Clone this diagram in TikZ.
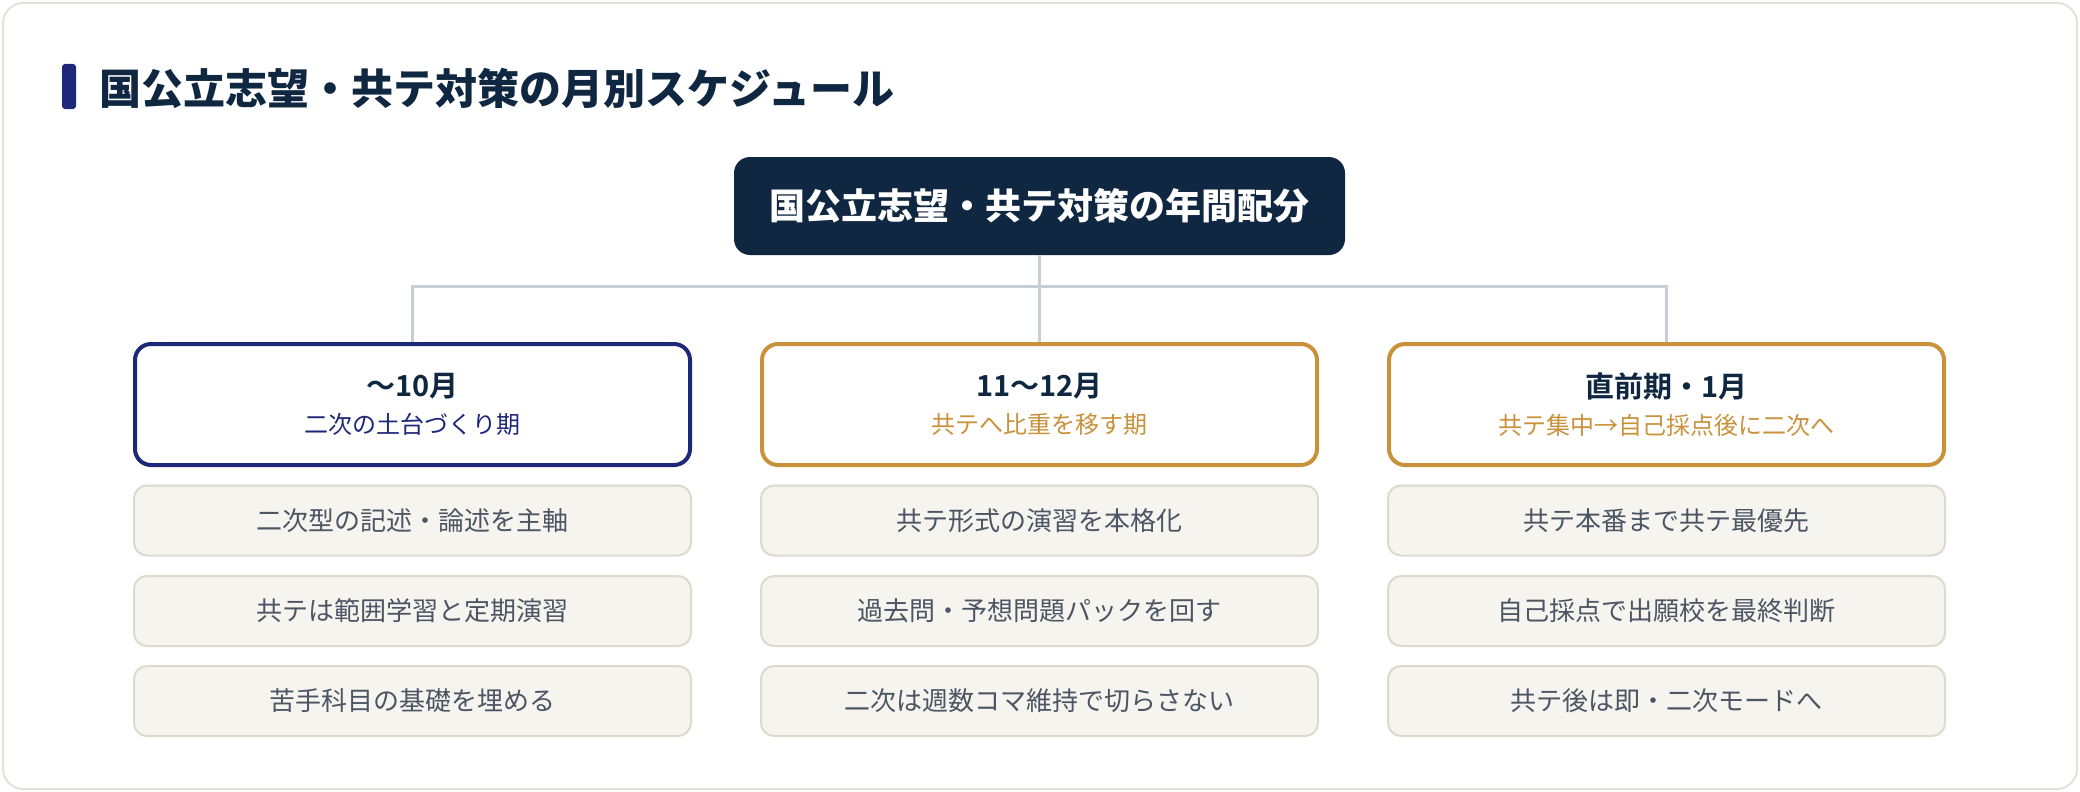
\documentclass[tikz,border=0pt]{standalone}
\usepackage{fontspec}
\setmainfont{Noto Sans CJK JP}[BoldFont={Noto Sans CJK JP Bold}]
\newfontfamily\heavyjp{Noto Sans CJK JP Black}
\definecolor{ink}{HTML}{0F2740}
\definecolor{navy}{HTML}{1E2878}
\definecolor{gold}{HTML}{C9923A}
\definecolor{wire}{HTML}{C8CED8}
\definecolor{cardline}{HTML}{E4E2D4}
\definecolor{itemfill}{HTML}{F5F4EF}
\definecolor{itemline}{HTML}{DDDACB}
\definecolor{itemtext}{HTML}{4B5563}
\begin{document}
\begin{tikzpicture}[x=1pt,y=-1pt,
phase/.style={draw=#1,line width=4,fill=white,rounded corners=16,minimum width=555,minimum height=121,align=center,font=\fontsize{24}{37}\selectfont},
item/.style={draw=itemline,line width=2,fill=itemfill,rounded corners=13,minimum width=557,minimum height=70,text=itemtext,font=\fontsize{26}{30}\selectfont},
conn/.style={draw=wire,line width=3}]
\useasboundingbox(0,0)rectangle(2080,792);
\draw[cardline,line width=2,fill=white,rounded corners=20](3,3)rectangle(2077,789);
\fill[navy,rounded corners=3](62,64)rectangle(76,109);
\node[anchor=west,text=ink,font=\heavyjp\fontsize{42}{50}\selectfont](title) at (96,88){国公立志望・共テ対策の月別スケジュール};

\node[fill=ink,rounded corners=16,minimum width=611,minimum height=98,text=white,font=\heavyjp\fontsize{36}{42}\selectfont](root) at (1039.5,206){国公立志望・共テ対策の年間配分};
\coordinate(bus) at (1039.5,286);

\node[phase=navy](p1) at (412.5,404.5){{\bfseries\fontsize{29}{36}\selectfont\color{ink}〜10月}\\{\color{navy}二次の土台づくり期}};
\node[phase=gold](p2) at (1039.5,404.5){{\bfseries\fontsize{29}{36}\selectfont\color{ink}11〜12月}\\{\color{gold}共テへ比重を移す期}};
\node[phase=gold](p3) at (1666.5,404.5){{\bfseries\fontsize{29}{36}\selectfont\color{ink}直前期・1月}\\{\color{gold}共テ集中→自己採点後に二次へ}};

\draw[conn](root)--(bus);
\draw[conn](p1.north)|-(bus)-|(p3.north);
\draw[conn](bus)--(p2.north);

\node[item](p1a) at (412.5,520.5){二次型の記述・論述を主軸};
\node[item](p1b) at (412.5,611){共テは範囲学習と定期演習};
\node[item](p1c) at (412.5,701){苦手科目の基礎を埋める};

\node[item](p2a) at (1039.5,520.5){共テ形式の演習を本格化};
\node[item](p2b) at (1039.5,611){過去問・予想問題パックを回す};
\node[item](p2c) at (1039.5,701){二次は週数コマ維持で切らさない};

\node[item](p3a) at (1666.5,520.5){共テ本番まで共テ最優先};
\node[item](p3b) at (1666.5,611){自己採点で出願校を最終判断};
\node[item](p3c) at (1666.5,701){共テ後は即・二次モードへ};

\end{tikzpicture}
\end{document}
